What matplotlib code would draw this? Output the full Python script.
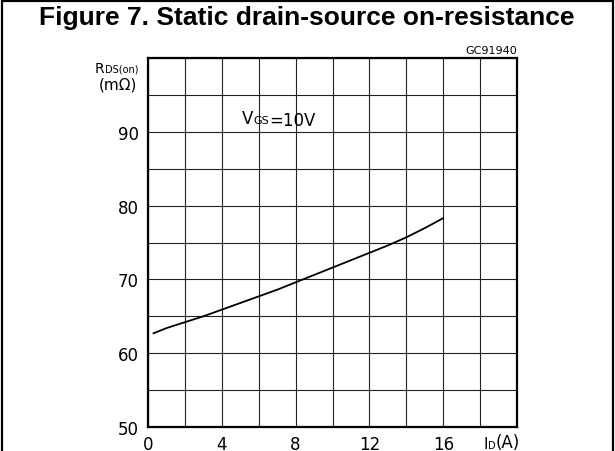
import matplotlib.pyplot as plt
import matplotlib.patches as patches
import numpy as np

# Curve (ID in A, RDS(on) in mOhm)
id_amps = [0.3, 1, 2, 3, 4, 5, 6, 7, 8, 9, 10, 11, 12, 13, 14, 15, 16]
rds_on = [62.7, 63.4, 64.2, 65.0, 65.9, 66.8, 67.7, 68.6, 69.6, 70.6,
          71.6, 72.6, 73.6, 74.6, 75.7, 76.95, 78.3]

x_ticks = [0, 2, 4, 6, 8, 10, 12, 14, 16, 18, 20]
x_labels = ['0', '', '4', '', '8', '', '12', '', '16', '', '']
y_ticks = [50, 55, 60, 65, 70, 75, 80, 85, 90, 95, 100]
y_labels = ['50', '', '60', '', '70', '', '80', '', '90', '', '']

plt.rcParams['font.family'] = ['DejaVu Sans']

W, H = 615, 452
fig = plt.figure(figsize=(W / 100, H / 100), dpi=100)
ax = fig.add_axes([148 / W, 1 - 428 / H, 369 / W, 369 / H])

ax.plot(id_amps, rds_on, color='black', lw=1.3)

ax.set_xlim(0, 20)
ax.set_ylim(50, 100)
ax.set_xticks(x_ticks)
ax.set_xticklabels(x_labels)
ax.set_yticks(y_ticks)
ax.set_yticklabels(y_labels)
ax.tick_params(axis='both', length=0, labelsize=12)
ax.tick_params(axis='x', pad=6)
ax.tick_params(axis='y', pad=6.5)
ax.grid(True, color='#222222', lw=0.8)
ax.set_axisbelow(True)
for sp in ax.spines.values():
    sp.set_linewidth(1.6)
    sp.set_color('black')

# Outer frame of the datasheet figure
frame = patches.Rectangle((1.5 / W, -0.05), 611 / W, 1.05 - 2 / H,
                          transform=fig.transFigure, fill=False,
                          edgecolor='black', lw=1.6, clip_on=False)
fig.patches.append(frame)

fig.text(0.498, 1 - 25 / H, 'Figure 7. Static drain-source on-resistance',
         family='Liberation Sans', weight='bold', fontsize=19,
         ha='center', va='baseline')

ax.text(1.0, 1.008, 'GC91940', transform=ax.transAxes, fontsize=8,
        ha='right', va='bottom')

# y axis label: R + small DS(on), then (mΩ)
r_txt = fig.text(95 / W, 1 - 73 / H, 'R', fontsize=10, va='baseline')
ax.annotate('DS(on)', xy=(1, 0), xycoords=r_txt, fontsize=7,
            ha='left', va='bottom', xytext=(0, 1),
            textcoords='offset points')
fig.text(118 / W, 1 - 89 / H, '(mΩ)', fontsize=11, ha='center',
         va='baseline')

# VGS = 10V
v_txt = ax.text(5.1, 91.9, 'V', fontsize=12, va='center')
gs_txt = ax.annotate('GS', xy=(1, 0), xycoords=v_txt, fontsize=8,
                     ha='left', va='bottom', xytext=(0, 1),
                     textcoords='offset points')
ax.annotate('=10V', xy=(1, 0), xycoords=gs_txt, fontsize=12,
            ha='left', va='bottom', xytext=(0, -2.5),
            textcoords='offset points')

# x axis label: ID(A)
a_txt = fig.text(520 / W, 1 - 448 / H, '(A)', fontsize=12, ha='right',
                 va='baseline')
d_txt = ax.annotate('D', xy=(0, 0), xycoords=a_txt, fontsize=7,
                    ha='right', va='bottom', xytext=(0, 1),
                    textcoords='offset points')
ax.annotate('I', xy=(0, 0), xycoords=d_txt, fontsize=11,
            ha='right', va='bottom', xytext=(0, -1),
            textcoords='offset points')

fig.savefig('out.png', dpi=100)
